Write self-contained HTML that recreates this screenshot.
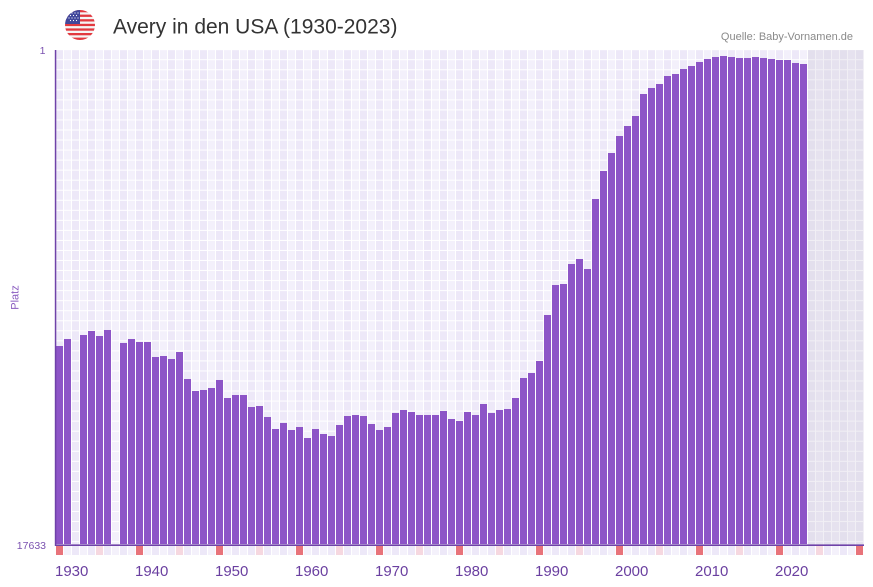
<!DOCTYPE html>
<html>
<head>
<meta charset="utf-8">
<style>
  html,body{margin:0;padding:0;background:#fff;}
  body{width:873px;height:587px;overflow:hidden;}
  svg{display:block;}
  text{font-family:"Liberation Sans",sans-serif;}
</style>
</head>
<body>
<svg width="873" height="587" viewBox="0 0 873 587" xmlns="http://www.w3.org/2000/svg">
  <defs>
    <pattern id="cells" patternUnits="userSpaceOnUse" x="56" y="50.16" width="16" height="10.04">
      <rect x="0" y="0" width="16" height="10.04" fill="#ffffff"/>
      <rect x="0" y="0" width="7" height="9.04" fill="#ede8f8"/>
      <rect x="8" y="0" width="7" height="9.04" fill="#f3f0fb"/>
    </pattern>
    <pattern id="cellsF" patternUnits="userSpaceOnUse" x="56" y="50.16" width="16" height="10.04">
      <rect x="0" y="0" width="16" height="10.04" fill="#f1eff5"/>
      <rect x="0" y="0" width="7" height="9.04" fill="#e3dfed"/>
      <rect x="8" y="0" width="7" height="9.04" fill="#e6e2ef"/>
    </pattern>
    <pattern id="marks" patternUnits="userSpaceOnUse" x="56" y="546" width="16" height="9">
      <rect x="0" y="0" width="16" height="9" fill="#ffffff"/>
      <rect x="0" y="0" width="7" height="9" fill="#ede8f8"/>
      <rect x="8" y="0" width="7" height="9" fill="#f4f1fb"/>
    </pattern>
    <clipPath id="flagclip"><circle cx="80" cy="25" r="15"/></clipPath>
  </defs>

  <g clip-path="url(#flagclip)">
    <rect x="65" y="10" width="30" height="30" fill="#f5f5f5"/>
    <rect x="65" y="10" width="30" height="2.3" fill="#e2393f"/>
    <rect x="65" y="14.6" width="30" height="2.3" fill="#e2393f"/>
    <rect x="65" y="19.2" width="30" height="2.3" fill="#e2393f"/>
    <rect x="65" y="23.8" width="30" height="2.3" fill="#e2393f"/>
    <rect x="65" y="28.4" width="30" height="2.3" fill="#e2393f"/>
    <rect x="65" y="33" width="30" height="2.3" fill="#e2393f"/>
    <rect x="65" y="37.6" width="30" height="2.4" fill="#e2393f"/>
    <rect x="65" y="10" width="15" height="14" fill="#41479b"/>
    <g fill="#ffffff">
      <circle cx="69" cy="13" r="0.6"/><circle cx="72" cy="13" r="0.6"/><circle cx="75" cy="13" r="0.6"/><circle cx="78" cy="13" r="0.6"/>
      <circle cx="70.5" cy="15.5" r="0.6"/><circle cx="73.5" cy="15.5" r="0.6"/><circle cx="76.5" cy="15.5" r="0.6"/>
      <circle cx="69" cy="18" r="0.6"/><circle cx="72" cy="18" r="0.6"/><circle cx="75" cy="18" r="0.6"/><circle cx="78" cy="18" r="0.6"/>
      <circle cx="70.5" cy="20.5" r="0.6"/><circle cx="73.5" cy="20.5" r="0.6"/><circle cx="76.5" cy="20.5" r="0.6"/>
    </g>
  </g>

  <text x="113" y="33.5" font-size="21" fill="#333333">Avery in den USA (1930-2023)</text>
  <text x="853" y="40" font-size="11" fill="#8a8a8a" text-anchor="end">Quelle: Baby-Vornamen.de</text>

  <rect x="56" y="50" width="752" height="495" fill="url(#cells)"/>
  <rect x="808" y="50" width="56" height="495" fill="url(#cellsF)"/>

  <g fill="#8d55c7">
    <rect x="56" y="346" width="7" height="198"/>
    <rect x="64" y="339" width="7" height="205"/>
    <rect x="80" y="335" width="7" height="209"/>
    <rect x="88" y="331" width="7" height="213"/>
    <rect x="96" y="336" width="7" height="208"/>
    <rect x="104" y="330" width="7" height="214"/>
    <rect x="120" y="343" width="7" height="201"/>
    <rect x="128" y="339" width="7" height="205"/>
    <rect x="136" y="342" width="7" height="202"/>
    <rect x="144" y="342" width="7" height="202"/>
    <rect x="152" y="357" width="7" height="187"/>
    <rect x="160" y="356" width="7" height="188"/>
    <rect x="168" y="359" width="7" height="185"/>
    <rect x="176" y="352" width="7" height="192"/>
    <rect x="184" y="379" width="7" height="165"/>
    <rect x="192" y="391" width="7" height="153"/>
    <rect x="200" y="390" width="7" height="154"/>
    <rect x="208" y="388" width="7" height="156"/>
    <rect x="216" y="380" width="7" height="164"/>
    <rect x="224" y="398" width="7" height="146"/>
    <rect x="232" y="395" width="7" height="149"/>
    <rect x="240" y="395" width="7" height="149"/>
    <rect x="248" y="407" width="7" height="137"/>
    <rect x="256" y="406" width="7" height="138"/>
    <rect x="264" y="417" width="7" height="127"/>
    <rect x="272" y="429" width="7" height="115"/>
    <rect x="280" y="423" width="7" height="121"/>
    <rect x="288" y="430" width="7" height="114"/>
    <rect x="296" y="427" width="7" height="117"/>
    <rect x="304" y="438" width="7" height="106"/>
    <rect x="312" y="429" width="7" height="115"/>
    <rect x="320" y="434" width="7" height="110"/>
    <rect x="328" y="436" width="7" height="108"/>
    <rect x="336" y="425" width="7" height="119"/>
    <rect x="344" y="416" width="7" height="128"/>
    <rect x="352" y="415" width="7" height="129"/>
    <rect x="360" y="416" width="7" height="128"/>
    <rect x="368" y="424" width="7" height="120"/>
    <rect x="376" y="430" width="7" height="114"/>
    <rect x="384" y="427" width="7" height="117"/>
    <rect x="392" y="413" width="7" height="131"/>
    <rect x="400" y="410" width="7" height="134"/>
    <rect x="408" y="412" width="7" height="132"/>
    <rect x="416" y="415" width="7" height="129"/>
    <rect x="424" y="415" width="7" height="129"/>
    <rect x="432" y="415" width="7" height="129"/>
    <rect x="440" y="411" width="7" height="133"/>
    <rect x="448" y="419" width="7" height="125"/>
    <rect x="456" y="421" width="7" height="123"/>
    <rect x="464" y="412" width="7" height="132"/>
    <rect x="472" y="415" width="7" height="129"/>
    <rect x="480" y="404" width="7" height="140"/>
    <rect x="488" y="413" width="7" height="131"/>
    <rect x="496" y="410" width="7" height="134"/>
    <rect x="504" y="409" width="7" height="135"/>
    <rect x="512" y="398" width="7" height="146"/>
    <rect x="520" y="378" width="7" height="166"/>
    <rect x="528" y="373" width="7" height="171"/>
    <rect x="536" y="361" width="7" height="183"/>
    <rect x="544" y="315" width="7" height="229"/>
    <rect x="552" y="285" width="7" height="259"/>
    <rect x="560" y="284" width="7" height="260"/>
    <rect x="568" y="264" width="7" height="280"/>
    <rect x="576" y="259" width="7" height="285"/>
    <rect x="584" y="269" width="7" height="275"/>
    <rect x="592" y="199" width="7" height="345"/>
    <rect x="600" y="171" width="7" height="373"/>
    <rect x="608" y="153" width="7" height="391"/>
    <rect x="616" y="136" width="7" height="408"/>
    <rect x="624" y="126" width="7" height="418"/>
    <rect x="632" y="116" width="7" height="428"/>
    <rect x="640" y="94" width="7" height="450"/>
    <rect x="648" y="88" width="7" height="456"/>
    <rect x="656" y="84" width="7" height="460"/>
    <rect x="664" y="76" width="7" height="468"/>
    <rect x="672" y="74" width="7" height="470"/>
    <rect x="680" y="69" width="7" height="475"/>
    <rect x="688" y="66" width="7" height="478"/>
    <rect x="696" y="62" width="7" height="482"/>
    <rect x="704" y="59" width="7" height="485"/>
    <rect x="712" y="57" width="7" height="487"/>
    <rect x="720" y="56" width="7" height="488"/>
    <rect x="728" y="57" width="7" height="487"/>
    <rect x="736" y="58" width="7" height="486"/>
    <rect x="744" y="58" width="7" height="486"/>
    <rect x="752" y="57" width="7" height="487"/>
    <rect x="760" y="58" width="7" height="486"/>
    <rect x="768" y="59" width="7" height="485"/>
    <rect x="776" y="60" width="7" height="484"/>
    <rect x="784" y="60" width="7" height="484"/>
    <rect x="792" y="63" width="7" height="481"/>
    <rect x="800" y="64" width="7" height="480"/>
  </g>

  <rect x="54.8" y="50" width="1.5" height="496" fill="#6f42a8"/>
  <rect x="55" y="544.4" width="809" height="1.6" fill="#6f42a8"/>

  <rect x="56" y="546" width="808" height="9" fill="url(#marks)"/>
  <g fill="#f6d8e0">
    <rect x="96" y="546" width="7" height="9"/>
    <rect x="176" y="546" width="7" height="9"/>
    <rect x="256" y="546" width="7" height="9"/>
    <rect x="336" y="546" width="7" height="9"/>
    <rect x="416" y="546" width="7" height="9"/>
    <rect x="496" y="546" width="7" height="9"/>
    <rect x="576" y="546" width="7" height="9"/>
    <rect x="656" y="546" width="7" height="9"/>
    <rect x="736" y="546" width="7" height="9"/>
    <rect x="816" y="546" width="7" height="9"/>
  </g>
  <g fill="#e8737a">
    <rect x="56" y="546" width="7" height="9"/>
    <rect x="136" y="546" width="7" height="9"/>
    <rect x="216" y="546" width="7" height="9"/>
    <rect x="296" y="546" width="7" height="9"/>
    <rect x="376" y="546" width="7" height="9"/>
    <rect x="456" y="546" width="7" height="9"/>
    <rect x="536" y="546" width="7" height="9"/>
    <rect x="616" y="546" width="7" height="9"/>
    <rect x="696" y="546" width="7" height="9"/>
    <rect x="776" y="546" width="7" height="9"/>
    <rect x="856" y="546" width="7" height="9"/>
  </g>

  <g font-size="15" fill="#6a3fa0">
    <text x="55" y="576">1930</text>
    <text x="135" y="576">1940</text>
    <text x="215" y="576">1950</text>
    <text x="295" y="576">1960</text>
    <text x="375" y="576">1970</text>
    <text x="455" y="576">1980</text>
    <text x="535" y="576">1990</text>
    <text x="615" y="576">2000</text>
    <text x="695" y="576">2010</text>
    <text x="775" y="576">2020</text>
  </g>

  <g font-size="10.5" fill="#7b52b0" text-anchor="end">
    <text x="45.5" y="54">1</text>
    <text x="46" y="549">17633</text>
  </g>
  <text x="0" y="0" font-size="11" fill="#8a5cc0" text-anchor="middle" transform="translate(18.5,297.5) rotate(-90)">Platz</text>
</svg>
</body>
</html>
